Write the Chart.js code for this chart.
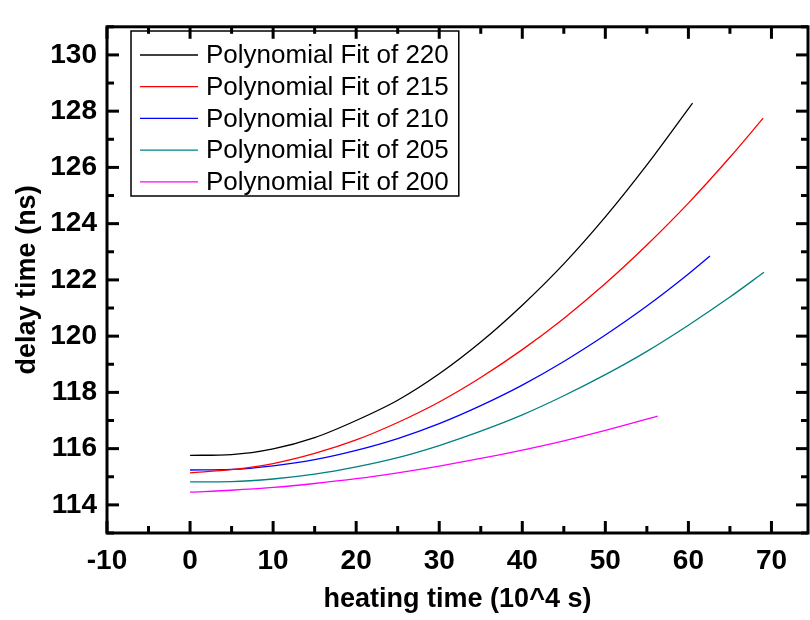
<!DOCTYPE html>
<html>
<head>
<meta charset="utf-8">
<script src="https://cdn.jsdelivr.net/npm/chart.js@4.4.0/dist/chart.umd.min.js"></script>
<style>
  html, body { margin: 0; padding: 0; background: #fff; overflow: hidden; }
</style>
</head>
<body>
<canvas id="delayChart" width="810" height="620"></canvas>
<script>
/* dados (tempo de aquecimento em 10^4 s, atraso em ns) */
const x220 = [0, 5, 10, 15, 20, 25, 30, 35, 40, 45, 50, 55, 60.5];
const y220 = [115.76, 115.79, 115.99, 116.39, 117.0, 117.72, 118.66, 119.79, 121.1, 122.57, 124.24, 126.09, 128.29];

const x215 = [0, 5, 10, 15, 20, 25, 30, 35, 40, 45, 50, 55, 60, 65, 69];
const y215 = [115.14, 115.25, 115.47, 115.83, 116.31, 116.93, 117.66, 118.53, 119.52, 120.63, 121.87, 123.24, 124.73, 126.36, 127.75];

const x210 = [0, 5, 10, 15, 20, 25, 30, 35, 40, 45, 50, 55, 60, 62.6];
const y210 = [115.24, 115.26, 115.39, 115.61, 115.94, 116.36, 116.89, 117.53, 118.26, 119.10, 120.04, 121.07, 122.21, 122.85];

const x205 = [0, 5, 10, 15, 20, 25, 30, 35, 40, 45, 50, 55, 60, 65, 69.1];
const y205 = [114.82, 114.83, 114.92, 115.09, 115.35, 115.68, 116.11, 116.62, 117.20, 117.88, 118.63, 119.46, 120.39, 121.39, 122.27];

const x200 = [0, 5, 10, 15, 20, 25, 30, 35, 40, 45, 50, 56.3];
const y200 = [114.45, 114.52, 114.62, 114.76, 114.93, 115.14, 115.38, 115.65, 115.95, 116.28, 116.65, 117.16];

const seriesNames = ['Polynomial Fit of 220', 'Polynomial Fit of 215', 'Polynomial Fit of 210', 'Polynomial Fit of 205', 'Polynomial Fit of 200'];
const seriesColors = ['#000000', '#ff0000', '#0000ff', '#008080', '#ff00ff'];

const xTicks = [-10, 0, 10, 20, 30, 40, 50, 60, 70];
const yTicks = [114, 116, 118, 120, 122, 124, 126, 128, 130];

const xTitle = 'heating time (10^4 s)';
const yTitle = 'delay time (ns)';

// monta pontos {x, y}
function toPoints(xs, ys) {
  return xs.map((x, i) => ({ x: x, y: ys[i] }));
}

const allX = [x220, x215, x210, x205, x200];
const allY = [y220, y215, y210, y205, y200];

const datasets = seriesNames.map((name, i) => ({
  label: name,
  data: toPoints(allX[i], allY[i]),
  borderColor: seriesColors[i],
  backgroundColor: 'transparent',
  borderWidth: 1.3,
  pointRadius: 0,
  tension: 0.4,
  cubicInterpolationMode: 'monotone',
  fill: false
}));

/* moldura com ticks para dentro (4 lados) */
const moldura = {
  id: 'moldura',
  afterDraw(chart) {
    const ctx = chart.ctx;
    const a = chart.chartArea;
    const sx = chart.scales.x;
    const sy = chart.scales.y;
    ctx.save();
    ctx.strokeStyle = '#000';
    ctx.lineWidth = 3;
    ctx.lineCap = 'butt';
    ctx.strokeRect(a.left, a.top, a.right - a.left, a.bottom - a.top);

    function seg(x1, y1, x2, y2) {
      ctx.beginPath();
      ctx.moveTo(x1, y1);
      ctx.lineTo(x2, y2);
      ctx.stroke();
    }
    // x: maiores a cada 10, menores a cada 5
    for (let v = xTicks[0]; v <= sx.max; v += 5) {
      const px = sx.getPixelForValue(v);
      const len = (v % 10 === 0) ? 12 : 7;
      seg(px, a.bottom, px, a.bottom - len);
      seg(px, a.top, px, a.top + len);
    }
    // y: maiores a cada 2, menores a cada 1
    for (let v = Math.ceil(sy.min); v <= sy.max; v += 1) {
      const py = sy.getPixelForValue(v);
      const len = (v % 2 === 0) ? 12 : 7;
      seg(a.left, py, a.left + len, py);
      seg(a.right, py, a.right - len, py);
    }
    ctx.restore();
  }
};

/* legenda desenhada dentro da area */
const legenda = {
  id: 'legenda',
  afterDatasetsDraw(chart) {
    const ctx = chart.ctx;
    const left = 131, top = 31, rowH = 31.7;
    ctx.save();
    ctx.font = '26px "Liberation Sans", Arial, sans-serif';
    let maxW = 0;
    chart.data.datasets.forEach(ds => { maxW = Math.max(maxW, ctx.measureText(ds.label).width); });
    const w = 206 - left + maxW + 10;
    const h = 165;
    ctx.fillStyle = '#fff';
    ctx.fillRect(left, top, w, h);
    ctx.strokeStyle = '#000';
    ctx.lineWidth = 1.5;
    ctx.strokeRect(left, top, w, h);
    chart.data.datasets.forEach((ds, i) => {
      const y = 55 + i * rowH;
      ctx.strokeStyle = ds.borderColor;
      ctx.lineWidth = 1.3;
      ctx.beginPath();
      ctx.moveTo(140, y);
      ctx.lineTo(198, y);
      ctx.stroke();
      ctx.fillStyle = '#000';
      ctx.textBaseline = 'middle';
      ctx.textAlign = 'left';
      ctx.fillText(ds.label, 206, y + 1);
    });
    ctx.restore();
  }
};

const ctxDelay = document.getElementById('delayChart').getContext('2d');
const chartDelay = new Chart(ctxDelay, {
  type: 'line',
  data: { datasets: datasets },
  options: {
    responsive: false,
    animation: false,
    devicePixelRatio: 1,
    layout: { padding: { top: 13, right: 2, left: 0, bottom: 0 } },
    plugins: {
      legend: { display: false },
      tooltip: { enabled: false }
    },
    scales: {
      x: {
        type: 'linear',
        min: -10,
        max: 74.4,
        afterBuildTicks: s => { s.ticks = xTicks.map(v => ({ value: v })); },
        afterFit: s => { s.height = 87; },
        grid: { display: false, drawTicks: false },
        border: { display: false },
        ticks: {
          color: '#000',
          padding: 11,
          maxRotation: 0,
          font: { family: '"Liberation Sans", Arial, sans-serif', size: 28, weight: 'bold' }
        },
        title: {
          display: true,
          text: xTitle,
          color: '#000',
          padding: { top: 0, bottom: 4 },
          font: { family: '"Liberation Sans", Arial, sans-serif', size: 27, weight: 'bold' }
        }
      },
      y: {
        type: 'linear',
        min: 113,
        max: 131,
        afterBuildTicks: s => { s.ticks = yTicks.map(v => ({ value: v })); },
        afterFit: s => { s.width = 107; },
        grid: { display: false, drawTicks: false },
        border: { display: false },
        ticks: {
          color: '#000',
          padding: 10,
          font: { family: '"Liberation Sans", Arial, sans-serif', size: 28, weight: 'bold' }
        },
        title: {
          display: true,
          text: yTitle,
          color: '#000',
          padding: { top: 11, bottom: 0 },
          font: { family: '"Liberation Sans", Arial, sans-serif', size: 27, weight: 'bold' }
        }
      }
    }
  },
  plugins: [moldura, legenda]
});
</script>
</body>
</html>
